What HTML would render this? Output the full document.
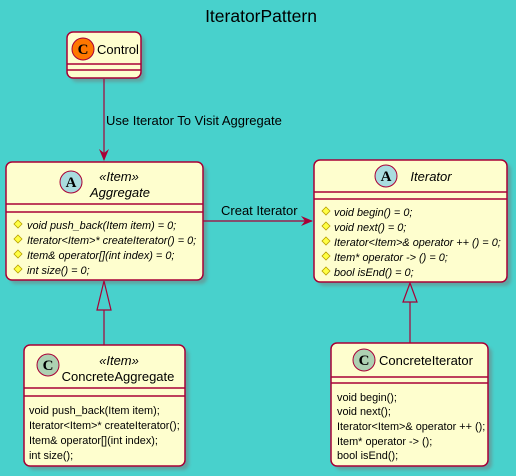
<!DOCTYPE html>
<html><head><meta charset="utf-8"><style>
html,body{margin:0;padding:0;background:#48D1CC;}
svg{display:block;}
text{font-family:"Liberation Sans",sans-serif;fill:#000;}
.m{font-size:10.9px;}
.i{font-style:italic;}
.serif{font-family:"Liberation Serif",serif;}
</style></head><body>
<svg width="516" height="476" viewBox="0 0 516 476" xmlns="http://www.w3.org/2000/svg">
<defs>
<filter id="sh" x="-10%" y="-10%" width="130%" height="130%"><feGaussianBlur stdDeviation="1.5"/></filter>
<g id="dia"><polygon points="0,-4 4,0 0,4 -4,0" fill="#FFFF44" stroke="#B8A000" stroke-width="0.8"/></g>
</defs>
<text x="261" y="22" text-anchor="middle" font-size="17.5">IteratorPattern</text>

<g fill="#777" opacity="0.5" filter="url(#sh)">
<rect x="71" y="36" width="74" height="46" rx="6"/>
<rect x="10" y="166" width="197" height="118" rx="6"/>
<rect x="318" y="164" width="193" height="122" rx="6"/>
<rect x="28" y="349" width="161" height="121" rx="6"/>
<rect x="335" y="347" width="157" height="123" rx="6"/>
</g>

<g fill="#FEFECE" stroke="#A80036" stroke-width="1.5">
<rect x="67" y="32" width="74" height="46" rx="6"/>
<rect x="6" y="162" width="197" height="118" rx="6"/>
<rect x="314" y="160" width="193" height="122" rx="6"/>
<rect x="24" y="345" width="161" height="121" rx="6"/>
<rect x="331" y="343" width="157" height="123" rx="6"/>
</g>
<g stroke="#A80036" stroke-width="1.5">
<line x1="67" y1="64" x2="141" y2="64"/><line x1="67" y1="70" x2="141" y2="70"/>
<line x1="6" y1="204" x2="203" y2="204"/><line x1="6" y1="212" x2="203" y2="212"/>
<line x1="314" y1="192" x2="507" y2="192"/><line x1="314" y1="199" x2="507" y2="199"/>
<line x1="24" y1="388" x2="185" y2="388"/><line x1="24" y1="396" x2="185" y2="396"/>
<line x1="331" y1="377" x2="488" y2="377"/><line x1="331" y1="383" x2="488" y2="383"/>
</g>

<g stroke="#A80036" stroke-width="1">
<circle cx="83" cy="49" r="11" fill="#FF7700"/>
<circle cx="71" cy="182" r="11" fill="#A9DCDF"/>
<circle cx="386" cy="176" r="11" fill="#A9DCDF"/>
<circle cx="48" cy="365" r="11" fill="#ADD1B2"/>
<circle cx="364" cy="360" r="11" fill="#ADD1B2"/>
</g>
<g font-size="15" font-weight="bold" text-anchor="middle">
<text x="83" y="54" class="serif">C</text>
<text x="71" y="187" class="serif">A</text>
<text x="386" y="181" class="serif">A</text>
<text x="48" y="370" class="serif">C</text>
<text x="364" y="365" class="serif">C</text>
</g>

<text x="97" y="54" font-size="13">Control</text>
<text x="119" y="181" font-size="13" class="i" text-anchor="middle">«Item»</text>
<text x="120" y="197" font-size="13" class="i" text-anchor="middle">Aggregate</text>
<text x="431" y="181" font-size="13" class="i" text-anchor="middle">Iterator</text>
<text x="119" y="365" font-size="13" class="i" text-anchor="middle">«Item»</text>
<text x="118" y="381" font-size="13" text-anchor="middle">ConcreteAggregate</text>
<text x="426" y="365" font-size="13" text-anchor="middle">ConcreteIterator</text>

<use href="#dia" x="18" y="224"/><use href="#dia" x="18" y="239"/><use href="#dia" x="18" y="254"/><use href="#dia" x="18" y="269"/>
<g class="m i">
<text x="27" y="229">void push_back(Item item) = 0;</text>
<text x="27" y="244">Iterator&lt;Item&gt;* createIterator() = 0;</text>
<text x="27" y="259">Item&amp; operator[](int index) = 0;</text>
<text x="27" y="274">int size() = 0;</text>
</g>
<use href="#dia" x="326" y="211"/><use href="#dia" x="326" y="226"/><use href="#dia" x="326" y="241"/><use href="#dia" x="326" y="256"/><use href="#dia" x="326" y="271"/>
<g class="m i">
<text x="334" y="216">void begin() = 0;</text>
<text x="334" y="231">void next() = 0;</text>
<text x="334" y="246">Iterator&lt;Item&gt;&amp; operator ++ () = 0;</text>
<text x="334" y="261">Item* operator -&gt; () = 0;</text>
<text x="334" y="276">bool isEnd() = 0;</text>
</g>
<g class="m">
<text x="29" y="414">void push_back(Item item);</text>
<text x="29" y="429">Iterator&lt;Item&gt;* createIterator();</text>
<text x="29" y="444">Item&amp; operator[](int index);</text>
<text x="29" y="459">int size();</text>
<text x="337" y="401">void begin();</text>
<text x="337" y="415">void next();</text>
<text x="337" y="430">Iterator&lt;Item&gt;&amp; operator ++ ();</text>
<text x="337" y="445">Item* operator -&gt; ();</text>
<text x="337" y="459">bool isEnd();</text>
</g>

<g stroke="#A80036" stroke-width="1.2" fill="none">
<line x1="104" y1="79" x2="104" y2="160"/>
<line x1="203" y1="221" x2="312" y2="221"/>
<line x1="104" y1="310" x2="104" y2="345"/>
<line x1="410" y1="302" x2="410" y2="343"/>
<polygon points="104,281 97,310 111,310"/>
<polygon points="410,283 403,302 417,302"/>
</g>
<g fill="#A80036">
<polygon points="104,161 99,149 104,153 109,149"/>
<polygon points="313,221 301,216 305,221 301,226"/>
</g>
<text x="106" y="125" font-size="13">Use Iterator To Visit Aggregate</text>
<text x="221" y="215" font-size="13">Creat Iterator</text>
</svg>
</body></html>
